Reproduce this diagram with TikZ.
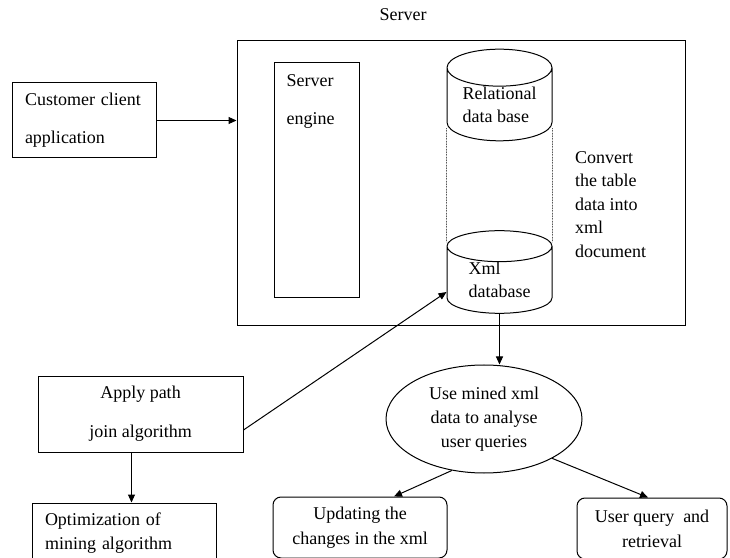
\documentclass[tikz,border=0pt]{standalone}
\usepackage{fontspec}
\setmainfont{Liberation Serif}
\usetikzlibrary{arrows.meta,positioning,shapes.geometric,calc}

\begin{document}
\begin{tikzpicture}[x=1pt,y=1pt,>={Triangle[length=8pt,width=7pt]},
 font=\fontsize{18}{23}\selectfont,
 box/.style={draw,line width=1pt,inner sep=0pt},
 rbox/.style={box,rounded corners=8pt,align=center,font=\fontsize{18}{25}\selectfont},
 db/.style={draw,line width=1pt,cylinder,shape border rotate=90,aspect=0.5,minimum width=105pt,inner sep=0pt,align=left,anchor=shape center},
 ar/.style={->,line width=1pt}]
 \useasboundingbox (0,0) rectangle (730,557);
 \clip (0,0) rectangle (730,557);
 % server side
 \node[box,minimum width=448pt,minimum height=285pt] (server) at (461,373.5) {};
 \node (srvlbl) at (403,542) {Server};
 \node[box,minimum width=85pt,minimum height=235pt,
  label={[anchor=north west,align=left,inner sep=0pt,xshift=13pt,yshift=-12pt,font=\fontsize{18}{38}\selectfont]north west:Server\\engine}] (engine) at (316.5,376.5) {};
 \node[db,minimum height=90pt] (rel) at (499.5,462) {Relational\\data base};
 \node[db,minimum height=80pt] (xml) at (499.5,285) {Xml\\database};
 \node[align=left,anchor=north west,inner sep=0pt,font=\fontsize{18}{23.5}\selectfont] (conv) at (575,406) {Convert\\the table\\data into\\xml\\document};
 % client and mining
 \node[box,minimum width=144pt,minimum height=75pt,text width=118pt,align=left,font=\fontsize{18}{38}\selectfont] (cust) at (84,436.5) {Customer client\\application};
 \node[box,minimum width=205pt,minimum height=76pt,align=center,font=\fontsize{18}{39}\selectfont] (apply) at (140.5,143) {Apply path\\join algorithm};
 \node[box,minimum width=184pt,minimum height=60pt,text width=158pt,align=left,font=\fontsize{18}{24}\selectfont] (optim) at (124,24) {Optimization of\\mining algorithm};
 \node[draw,line width=1pt,ellipse,minimum width=196pt,minimum height=108pt,inner sep=0pt,align=center,font=\fontsize{18}{24}\selectfont] (use) at (484,138) {Use mined xml\\data to analyse\\user queries};
 \node[rbox,minimum width=174pt,minimum height=61pt] (upd) at (360,29.5) {Updating the\\changes in the xml};
 \node[rbox,minimum width=150pt,minimum height=61pt] (uq) at (652,28.5) {User query\ \ and\\retrieval};
 % connectors
 \draw[densely dotted,line width=0.6pt] ($(rel.west |- rel.south)+(0,13)$) -- ($(xml.west |- xml.north)+(0,-12)$);
 \draw[densely dotted,line width=0.6pt] ($(rel.east |- rel.south)+(0,13)$) -- ($(xml.east |- xml.north)+(0,-12)$);
 \draw[ar] (cust) -- (cust -| server.west);
 \draw[ar] ([yshift=-16pt]apply.east) -- ($(xml.shape center -| xml.west)+(0,-20)$);
 \draw[ar] (xml.south) -- (xml.south |- use.north);
 \draw[ar] ([xshift=-9pt]apply.south) -- ([xshift=-9pt]apply.south |- optim.north);
 \draw[ar] (use.-122) -- ([xshift=34pt]upd.north);
 \draw[ar] (use.-30) -- ([xshift=-4pt]uq.north);
\end{tikzpicture}
\end{document}
